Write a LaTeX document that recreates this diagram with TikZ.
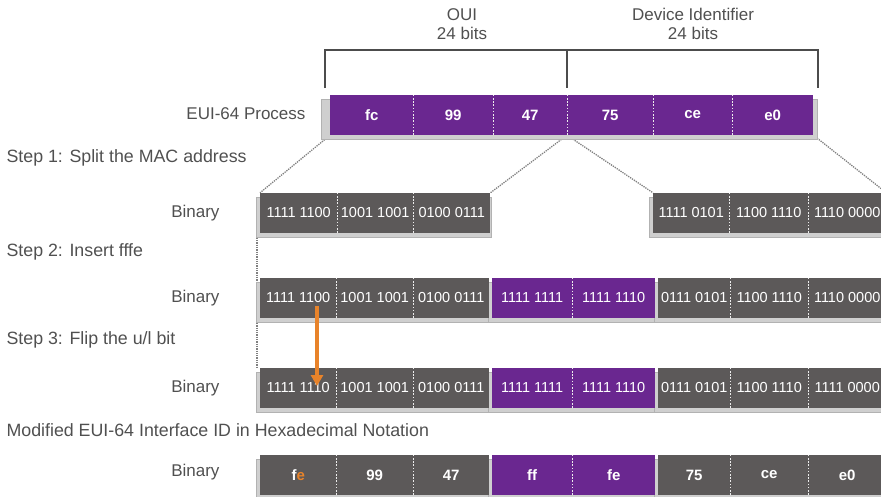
\documentclass[tikz,border=0pt]{standalone}
\usepackage{fontspec}
\setmainfont{Liberation Sans}
\usetikzlibrary{calc,arrows.meta,backgrounds}
\definecolor{ciscopurple}{HTML}{6A2790}
\definecolor{blockgray}{HTML}{5C5959}
\definecolor{shadegray}{HTML}{CFCFCF}
\definecolor{labelgray}{HTML}{505050}
\definecolor{fliporange}{HTML}{E8832A}
\tikzset{
	seg/.style={rectangle,inner sep=0pt,minimum height=40pt,text=white,font=\fontsize{14.5}{16}\selectfont},
	graybin/.style={seg,fill=blockgray},
	purplebin/.style={seg,fill=ciscopurple},
	grayhex/.style={graybin,font=\fontsize{15}{17}\selectfont\bfseries},
	purplehex/.style={purplebin,font=\fontsize{15}{17}\selectfont\bfseries},
	divider/.style={white!85!gray,dash pattern=on 1.6pt off 1.6pt,line width=1.6pt},
	blockshade/.style={fill=shadegray,draw=gray!60,line width=0.8pt},
	guide/.style={gray,densely dotted,line width=1.3pt},
	rowlabel/.style={anchor=east,text=labelgray,font=\fontsize{17}{19}\selectfont},
	steplabel/.style={anchor=west,text=labelgray,font=\fontsize{17.8}{19}\selectfont},
	headlabel/.style={align=center,text=labelgray,font=\fontsize{17}{19}\selectfont},
	fliparrow/.style={fliporange,line width=3.4pt,-{Triangle[length=11pt,width=12pt]}}
}
\begin{document}
\begin{tikzpicture}[x=1pt,y=-1pt]
	\useasboundingbox (0,0) rectangle (881,496);
	\clip (0,0) rectangle (881,496);
	% header and bracket
	\node[headlabel] (oui) at (462,24) {OUI\\24 bits};
	\node[headlabel] (devid) at (693,24) {Device Identifier\\24 bits};
	\draw[gray!60!black,line width=1.5pt] (325,88)--(325,50)--(818,50)--(818,88);
	\draw[gray!60!black,line width=1.5pt] (567,50)--(567,88);
	% shades behind the blocks
	\filldraw[blockshade] (321,99) rectangle (817,139);
	\foreach \ya/\xa/\xb in {193/260/490,193/653/886,278/260/489,278/492/655,278/658/886,
		368/260/489,368/492/655,368/658/886,455/260/489,455/492/655,455/658/886} {
		\filldraw[blockshade] (\xa-4,\ya+4) rectangle (\xb+1,\ya+44);
	}
	% EUI-64 row
	\node[rowlabel] (euilabel) at (309,114) {EUI-64 Process};
	\foreach \nm/\st/\xa/\xb/\txt in {e1/purplehex/330/413/fc,e2/purplehex/413/493/99,
		e3/purplehex/493/567/47,e4/purplehex/567/653/75,e5/purplehex/653/732/ce,
		e6/purplehex/732/813/e0} {
		\pgfmathsetmacro{\w}{\xb-\xa}
		\node[\st,minimum width=\w pt,anchor=west] (\nm) at (\xa,115) {\txt};
	}
	\foreach \nm in {e1,e2,e3,e4,e5}
	\draw[divider] (\nm.north east)--(\nm.south east);
	% step 1
	\node[steplabel] (step1) at (3,158) {Step 1: Split the MAC address};
	\node[rowlabel] (bin1) at (223,213) {Binary};
	\foreach \nm/\st/\xa/\xb/\txt in {a1/graybin/260/337/1111 1100,a2/graybin/337/413/1001 1001,
		a3/graybin/413/490/0100 0111,b1/graybin/653/729/1111 0101,b2/graybin/729/808/1100 1110,
		b3/graybin/808/886/1110 0000} {
		\pgfmathsetmacro{\w}{\xb-\xa}
		\node[\st,minimum width=\w pt,anchor=west] (\nm) at (\xa,213) {\txt};
	}
	\foreach \nm in {a1,a2,b1,b2}
	\draw[divider] (\nm.north east)--(\nm.south east);
	% step 2
	\node[steplabel] (step2) at (3,252) {Step 2: Insert fffe};
	\node[rowlabel] (bin2) at (223,298) {Binary};
	\foreach \nm/\st/\xa/\xb/\txt in {c1/graybin/260/336/1111 1100,c2/graybin/336/413/1001 1001,
		c3/graybin/413/489/0100 0111,c4/purplebin/492/572/1111 1111,c5/purplebin/572/655/1111 1110,
		c6/graybin/658/730/0111 0101,c7/graybin/730/808/1100 1110,c8/graybin/808/886/1110 0000} {
		\pgfmathsetmacro{\w}{\xb-\xa}
		\node[\st,minimum width=\w pt,anchor=west] (\nm) at (\xa,298) {\txt};
	}
	\foreach \nm in {c1,c2,c4,c6,c7}
	\draw[divider] (\nm.north east)--(\nm.south east);
	% step 3
	\node[steplabel] (step3) at (3,340) {Step 3: Flip the u/l bit};
	\node[rowlabel] (bin3) at (223,388) {Binary};
	\foreach \nm/\st/\xa/\xb/\txt in {d1/graybin/260/336/1111 1110,d2/graybin/336/413/1001 1001,
		d3/graybin/413/489/0100 0111,d4/purplebin/492/572/1111 1111,d5/purplebin/572/655/1111 1110,
		d6/graybin/658/730/0111 0101,d7/graybin/730/808/1100 1110,d8/graybin/808/886/1111 0000} {
		\pgfmathsetmacro{\w}{\xb-\xa}
		\node[\st,minimum width=\w pt,anchor=west] (\nm) at (\xa,388) {\txt};
	}
	\foreach \nm in {d1,d2,d4,d6,d7}
	\draw[divider] (\nm.north east)--(\nm.south east);
	% modified interface id
	\node[steplabel] (step4) at (3,430) {Modified EUI-64 Interface ID in Hexadecimal Notation};
	\node[rowlabel] (bin4) at (223,472) {Binary};
	\foreach \nm/\st/\xa/\xb/\txt in {f1/grayhex/260/336/f{\color{fliporange}e},f2/grayhex/336/413/99,
		f3/grayhex/413/489/47,f4/purplehex/492/572/ff,f5/purplehex/572/655/fe,
		f6/grayhex/658/730/75,f7/grayhex/730/808/ce,f8/grayhex/808/886/e0} {
		\pgfmathsetmacro{\w}{\xb-\xa}
		\node[\st,minimum width=\w pt,anchor=west] (\nm) at (\xa,475) {\txt};
	}
	\foreach \nm in {f1,f2,f4,f6,f7}
	\draw[divider] (\nm.north east)--(\nm.south east);
	% u/l bit flip
	\coordinate (ulbit) at (317,306);
	\coordinate (ulflip) at (317,386);
	\draw[fliparrow] (ulbit)--(ulflip);
	% dotted guides
	\begin{pgfonlayer}{background}
		\draw[guide] (e1.south west)--(a1.north west);
		\draw[guide] (e4.south west)--(a3.north east);
		\draw[guide] (e4.south west)--(b1.north west);
		\draw[guide] (e6.south east)--(b3.north east);
		\draw[guide] ($(a1.south west)+(-3,0)$)--($(d1.north west)+(-3,0)$);
	\end{pgfonlayer}
\end{tikzpicture}
\end{document}
